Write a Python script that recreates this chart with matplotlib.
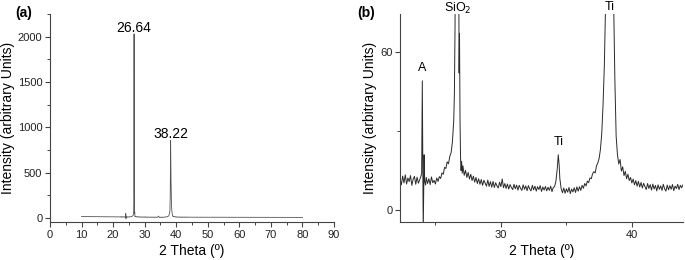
import matplotlib.pyplot as plt
from matplotlib.ticker import MultipleLocator

plt.rcParams['font.family'] = ['Liberation Sans', 'DejaVu Sans']

# XRD scan (same scan in both panels)
tth = [
    10.0, 12.0, 14.0, 16.0, 18.0, 20.0, 21.0, 22.0,
    22.3, 22.4, 22.5, 22.6, 22.7, 22.8, 22.9, 23.0, 23.1, 23.2, 23.3, 23.4,
    23.5, 23.6, 23.7, 23.8, 23.9, 23.95, 24.0, 24.04, 24.07, 24.1, 24.14, 24.18,
    24.25, 24.3, 24.4, 24.5, 24.6, 24.7, 24.8, 24.9, 25.0, 25.1, 25.2, 25.3,
    25.4, 25.5, 25.6, 25.7, 25.8, 25.9, 26.0, 26.1, 26.2, 26.3, 26.4, 26.45,
    26.5, 26.55, 26.6, 26.64, 26.68, 26.73, 26.78, 26.81, 26.84, 26.88, 26.92,
    26.96, 27.0, 27.05, 27.1, 27.2, 27.3, 27.4, 27.5, 27.6, 27.7, 27.8, 27.9,
    28.0, 28.1, 28.2, 28.3, 28.4, 28.5, 28.6, 28.7, 28.8, 28.9, 29.0, 29.1,
    29.2, 29.3, 29.4, 29.5, 29.6, 29.7, 29.8, 29.9, 30.0, 30.1, 30.2, 30.3,
    30.4, 30.5, 30.6, 30.7, 30.8, 30.9, 31.0, 31.1, 31.2, 31.3, 31.4, 31.5,
    31.6, 31.7, 31.8, 31.9, 32.0, 32.1, 32.2, 32.3, 32.4, 32.5, 32.6, 32.7,
    32.8, 32.9, 33.0, 33.1, 33.2, 33.3, 33.4, 33.5, 33.6, 33.7, 33.8, 33.9,
    34.0, 34.1, 34.2, 34.3, 34.38, 34.45, 34.5, 34.6, 34.7, 34.8, 34.9, 35.0,
    35.1, 35.2, 35.3, 35.4, 35.5, 35.6, 35.7, 35.8, 35.9, 36.0, 36.1, 36.2,
    36.3, 36.4, 36.5, 36.6, 36.7, 36.8, 36.9, 37.0, 37.1, 37.2, 37.3, 37.4,
    37.5, 37.6, 37.7, 37.8, 37.9, 38.0, 38.1, 38.22, 38.35, 38.5, 38.6, 38.7,
    38.8, 38.9, 39.0, 39.1, 39.2, 39.3, 39.4, 39.5, 39.6, 39.7, 39.8, 39.9,
    40.0, 40.1, 40.2, 40.3, 40.4, 40.5, 40.6, 40.7, 40.8, 40.9, 41.0, 41.1,
    41.2, 41.3, 41.4, 41.5, 41.6, 41.7, 41.8, 41.9, 42.0, 42.1, 42.2, 42.3,
    42.4, 42.5, 42.6, 42.7, 42.8, 42.9, 43.0, 43.1, 43.2, 43.3, 43.4, 43.5,
    43.6, 43.7, 43.8, 43.9, 44.0,
    46.0, 50.0, 55.0, 60.0, 65.0, 70.0, 75.0, 80.0,
]
intensity = [
    16, 15, 14.5, 14, 13, 12.5, 12, 11.5,
    11.8, 9.6, 12.9, 10.3, 13.4, 9.9, 12.2, 10.8, 13.1, 9.4, 11.7, 12.8,
    9.8, 12.5, 10.2, 11.6, 12.9, 14, 49, 12, -8, 6, 21, 11,
    9.5, 12.4, 10.1, 11.9, 9.7, 12.6, 10.4, 11.3, 9.9, 12.2, 10.9, 12.7,
    12.0, 14.1, 13.6, 16.2, 15.8, 18.3, 17.6, 20.4, 21.8, 26, 34, 44,
    70, 180, 1100, 2030, 1100, 260, 95, 52, 67, 34, 20,
    15, 18.5, 14, 16.8, 13.2, 15.1, 12.4, 14.3, 11.8, 13.6, 11.2, 12.9,
    10.6, 12.4, 10.1, 11.9, 9.8, 11.6, 9.4, 11.3, 10.2, 9.1, 11.4, 9.0,
    10.8, 8.7, 10.9, 8.6, 10.4, 9.2, 8.4, 10.6, 8.9, 11.8, 8.5, 10.1,
    8.2, 9.9, 8.0, 9.7, 8.6, 7.8, 9.8, 8.1, 9.5, 7.6, 9.4, 8.3,
    7.5, 9.6, 7.9, 9.2, 7.4, 9.3, 8.0, 7.3, 9.4, 7.7, 9.1, 7.2,
    8.9, 7.8, 9.3, 7.1, 8.8, 7.6, 9.0, 7.3, 8.7, 7.5, 9.1, 7.0,
    8.6, 8.9, 11, 15.5, 21, 17, 12, 8.2, 6.6, 8.4, 6.4, 8.1,
    6.8, 8.6, 6.3, 8.0, 6.9, 8.5, 6.7, 8.8, 7.2, 8.9, 7.5, 9.4,
    8.3, 10.1, 9.2, 11.0, 10.4, 12.2, 11.9, 13.8, 14.6, 14.1, 16.8, 17.9,
    19.6, 23, 29, 40, 55, 80, 250, 855, 420, 140, 82, 50,
    28, 21, 17.5, 19.2, 14.8, 16.4, 13.1, 14.7, 11.9, 13.6, 11.2, 12.4,
    10.3, 11.8, 9.6, 11.2, 9.1, 10.9, 8.8, 10.5, 8.4, 10.2, 8.9, 7.8,
    10.1, 8.2, 9.7, 7.6, 9.9, 8.0, 9.4, 7.3, 9.6, 7.9, 9.2, 7.5,
    9.8, 8.1, 7.2, 9.5, 7.7, 9.3, 7.9, 9.7, 7.4, 9.1, 8.2, 9.8,
    7.8, 9.4, 8.5, 9.6, 8.4,
    8.2, 7.8, 7.4, 7.0, 6.8, 6.5, 6.2, 6.0,
]

peaks_a = [(26.64, 2030), (38.22, 855)]
labels_b = [('A', 24.0, 51.5), ('Ti', 34.4, 23.5)]
top_labels_b = [('SiO$_2$', 26.7), ('Ti', 38.3)]

axis_col = '#444444'

fig = plt.figure(figsize=(6.85, 2.6), dpi=100)
ax1 = fig.add_axes([0.073, 0.146, 0.4146, 0.8])
ax2 = fig.add_axes([0.584, 0.146, 0.413, 0.8])

ax1.plot(tth, intensity, color='#555555', lw=0.6)
ax2.plot(tth, intensity, color='#2a2a2a', lw=0.7)

for ax in (ax1, ax2):
    for s in ('top', 'right'):
        ax.spines[s].set_visible(False)
    for s in ('left', 'bottom'):
        ax.spines[s].set_color(axis_col)
        ax.spines[s].set_linewidth(0.8)
    ax.tick_params(which='major', direction='out', length=3.5, width=0.8,
                   color=axis_col, labelsize=8, labelcolor='#222222', pad=2)
    ax.tick_params(which='minor', direction='out', length=2, width=0.7,
                   color=axis_col)
    ax.set_xlabel('2 Theta (º)', fontsize=10, labelpad=3)
    ax.set_ylabel('Intensity (arbitrary Units)', fontsize=10, labelpad=2)

# panel (a)
ax1.set_xlim(0, 90)
ax1.set_ylim(-45, 2250)
ax1.xaxis.set_major_locator(MultipleLocator(10))
ax1.xaxis.set_minor_locator(MultipleLocator(5))
ax1.yaxis.set_major_locator(MultipleLocator(500))
ax1.yaxis.set_minor_locator(MultipleLocator(250))
for x, y in peaks_a:
    ax1.text(x, y + 25, f'{x:.2f}', ha='center', va='baseline', fontsize=10)

# panel (b)
ax2.set_xlim(22.3, 43.9)
ax2.set_ylim(-4.5, 74.3)
ax2.xaxis.set_major_locator(MultipleLocator(10))
ax2.xaxis.set_minor_locator(MultipleLocator(5))
ax2.yaxis.set_major_locator(MultipleLocator(60))
ax2.yaxis.set_minor_locator(MultipleLocator(30))
for t, x, y in labels_b:
    ax2.text(x, y, t, ha='center', va='bottom', fontsize=9)
for t, x in top_labels_b:
    ax2.annotate(t, xy=(x, 1.0), xycoords=('data', 'figure fraction'),
                 xytext=(0, -1), textcoords='offset points',
                 ha='center', va='top', fontsize=9)

fig.text(0.022, 0.95, '(a)', fontsize=10, fontweight='bold', va='center')
fig.text(0.521, 0.95, '(b)', fontsize=10, fontweight='bold', va='center')

fig.savefig('out.png', dpi=100)
